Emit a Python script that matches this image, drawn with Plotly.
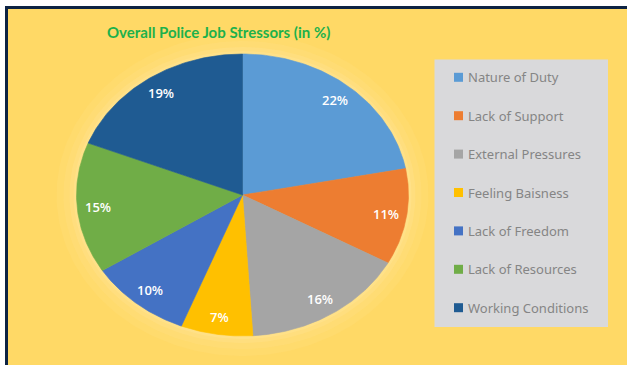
import numpy as np
import plotly.graph_objects as go

# Stressor categories and their share of responses (%)
categories = ["Nature of Duty", "Lack of Support", "External Pressures",
              "Feeling Baisness", "Lack of Freedom", "Lack of Resources",
              "Working Conditions"]
shares = [22, 11, 16, 7, 10, 15, 19]
colors = ["#5B9BD5", "#ED7D31", "#A5A5A5", "#FFC000", "#4472C4", "#70AD47", "#1F5B92"]
title_text = "Overall Police Job Stressors (in %)"

W, H = 627, 365
BG = "#FFD966"
NAVY = "#0D2343"

# Pie geometry (pixel space, y grows downward)
cx, cy, rx, ry = 242.5, 195.0, 166.0, 141.0
label_r = 0.875

fig = go.Figure()

# soft glow around the pie
for grow, op in [(20, 0.08), (13, 0.10), (7, 0.13), (3, 0.16)]:
    t = np.linspace(0, 2 * np.pi, 200)
    fig.add_trace(go.Scatter(
        x=cx + (rx + grow) * np.sin(t), y=cy - (ry + grow) * np.cos(t),
        mode="lines", fill="toself", fillcolor=f"rgba(255,240,190,{op})",
        line=dict(width=0), hoverinfo="skip", showlegend=False))

total = float(sum(shares))
start = 0.0
for name, val, col in zip(categories, shares, colors):
    a0 = start / total * 2 * np.pi
    a1 = (start + val) / total * 2 * np.pi
    t = np.linspace(a0, a1, 80)
    xs = np.concatenate([[cx], cx + rx * np.sin(t), [cx]])
    ys = np.concatenate([[cy], cy - ry * np.cos(t), [cy]])
    fig.add_trace(go.Scatter(
        x=xs, y=ys, mode="lines", fill="toself", fillcolor=col,
        line=dict(color=col, width=0.6), name=name,
        hovertemplate=f"{name}: {val}%<extra></extra>", showlegend=False))
    am = (a0 + a1) / 2
    fig.add_annotation(x=cx + label_r * rx * np.sin(am), y=cy - label_r * ry * np.cos(am),
                       text=f"{val}%", showarrow=False,
                       font=dict(family="Open Sans", size=13, color="white", weight=600))
    start += val

shapes = [
    # yellow panel with navy top/left rules
    dict(type="rect", x0=5, x1=W + 2, y0=6, y1=H + 2, fillcolor=BG, line=dict(width=0), layer="below"),
    dict(type="rect", x0=5, x1=W + 2, y0=6, y1=9, fillcolor=NAVY, line=dict(width=0), layer="below"),
    dict(type="rect", x0=5, x1=8, y0=6, y1=H + 2, fillcolor=NAVY, line=dict(width=0), layer="below"),
    # legend panel
    dict(type="rect", x0=434.5, x1=608, y0=59.5, y1=327, fillcolor="#D9D9DB", line=dict(width=0), layer="below"),
]

# legend entries
row0, row_gap = 77.3, 38.4
for i, (name, col) in enumerate(zip(categories, colors)):
    yc = row0 + i * row_gap
    shapes.append(dict(type="rect", x0=454, x1=463, y0=yc - 4.5, y1=yc + 4.5,
                       fillcolor=col, line=dict(width=0)))
    fig.add_annotation(x=465.5, y=yc, text=name, showarrow=False, xanchor="left",
                       yanchor="middle", font=dict(family="Noto Sans", size=13, color="#858585"))

fig.add_annotation(x=218, y=32, text=title_text, showarrow=False,
                   font=dict(family="Lato", size=15, color="#1DB14B", weight="bold"))

fig.update_layout(
    width=W, height=H, margin=dict(l=0, r=0, t=0, b=0),
    paper_bgcolor="white", plot_bgcolor="rgba(0,0,0,0)",
    xaxis=dict(range=[0, W], visible=False, fixedrange=True),
    yaxis=dict(range=[H, 0], visible=False, fixedrange=True),
    shapes=shapes, showlegend=False,
)

fig.write_html("out.html")
